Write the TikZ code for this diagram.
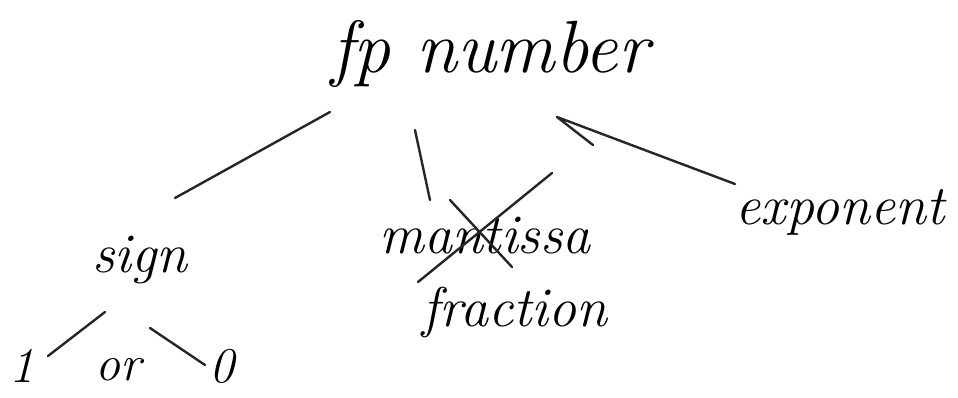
\documentclass[tikz,border=0pt]{standalone}
\begin{document}
\begin{tikzpicture}[x=1pt,y=-1pt,
  ink/.style={draw=black!85,line width=2.4pt,line cap=round,line join=round},
  big/.style={font=\fontsize{74}{74}\selectfont\itshape,inner sep=0pt},
  word/.style={font=\fontsize{56}{56}\selectfont\itshape,inner sep=0pt},
  small/.style={font=\fontsize{50}{50}\selectfont\itshape,inner sep=0pt}]
\useasboundingbox[fill=white] (0,0) rectangle (958,397);
\node[big] (fp) at (490,54) {fp number};
\node[word] (sign) at (140,260) {sign};
\node[word] (mant) at (485,236) {mantissa};
\node[word] (frac) at (515,312) {fraction};
\node[word] (expo) at (840,212) {exponent};
\node[small] (one) at (22,366) {1};
\node[small] (or) at (118,370) {or};
\node[small] (zero) at (222,366) {0};
% connector end points
\coordinate (fpL) at (330,112);
\coordinate (signT) at (175,198);
\coordinate (fpM) at (415,130);
\coordinate (mantT) at (430,200);
\coordinate (fpR) at (557,117);
\coordinate (hook) at (593,145);
\coordinate (expoT) at (735,184);
\coordinate (signBL) at (105,312);
\coordinate (oneT) at (48,356);
\coordinate (signBR) at (150,328);
\coordinate (zeroT) at (205,365);
\coordinate (xa) at (418,282);
\coordinate (xb) at (552,173);
\coordinate (xc) at (450,200);
\coordinate (xd) at (512,267);
\draw[ink] (fpL) -- (signT);
\draw[ink] (fpM) -- (mantT);
\draw[ink] (hook) -- (fpR) -- (expoT);
\draw[ink] (signBL) -- (oneT);
\draw[ink] (signBR) -- (zeroT);
\draw[ink] (xa) -- (xb);
\draw[ink] (xc) -- (xd);
\end{tikzpicture}
\end{document}
